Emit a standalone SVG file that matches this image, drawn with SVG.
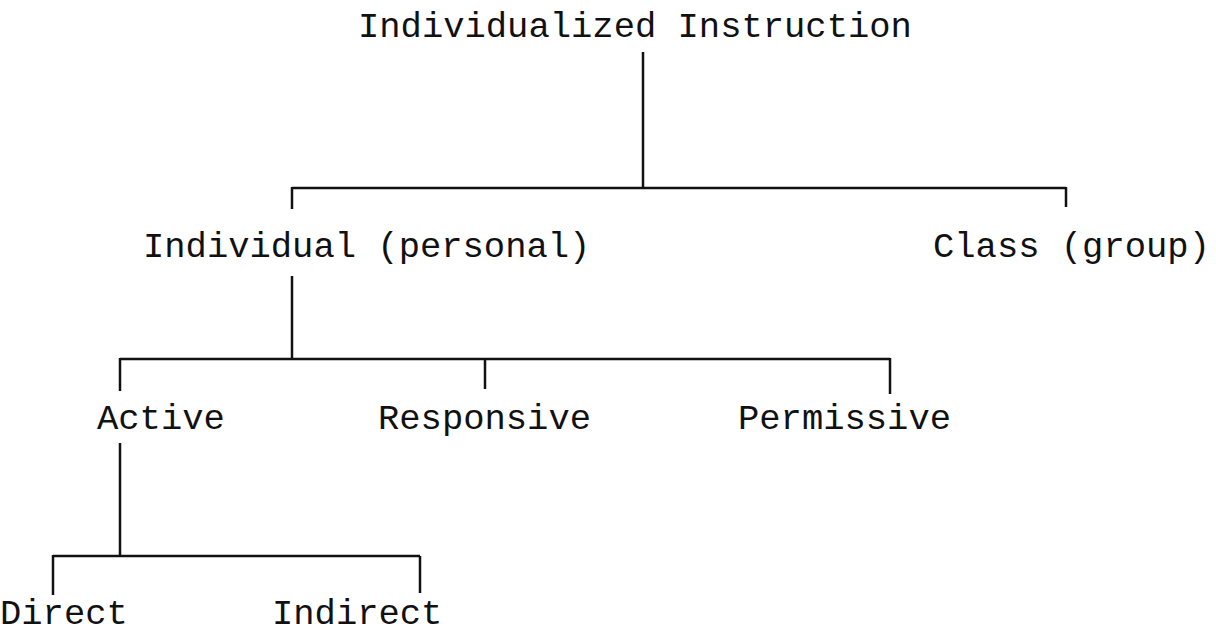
<svg xmlns="http://www.w3.org/2000/svg" width="1216" height="632" viewBox="0 0 1216 632">
<style>
text{font-family:"Liberation Mono","Courier New",monospace;font-size:35.5px;fill:#111}
.c line{stroke:#111;stroke-width:2.5;fill:none}
</style>
<rect width="1216" height="632" fill="#fff"/>
<g class="c" id="connectors">
<line x1="643" y1="52" x2="643" y2="188"/>
<line x1="292" y1="188" x2="1066" y2="188"/>
<line x1="292" y1="187" x2="292" y2="209"/>
<line x1="1066" y1="187" x2="1066" y2="207"/>
<line x1="292" y1="276" x2="292" y2="359"/>
<line x1="120" y1="359" x2="890" y2="359"/>
<line x1="120" y1="358" x2="120" y2="391"/>
<line x1="485" y1="358" x2="485" y2="389"/>
<line x1="890" y1="358" x2="890" y2="394"/>
<line x1="120" y1="443" x2="120" y2="556"/>
<line x1="53" y1="556" x2="420" y2="556"/>
<line x1="53" y1="555" x2="53" y2="595"/>
<line x1="420" y1="556" x2="420" y2="593"/>
</g>
<g id="n-root"><text x="358" y="37">Individualized Instruction</text></g>
<g id="n-individual"><text x="143" y="257">Individual (personal)</text></g>
<g id="n-class"><text x="933" y="257">Class (group)</text></g>
<g id="n-active"><text x="97" y="429">Active</text></g>
<g id="n-responsive"><text x="378" y="429">Responsive</text></g>
<g id="n-permissive"><text x="738" y="429">Permissive</text></g>
<g id="n-direct"><text x="0" y="624">Direct</text></g>
<g id="n-indirect"><text x="272" y="624">Indirect</text></g>
</svg>
